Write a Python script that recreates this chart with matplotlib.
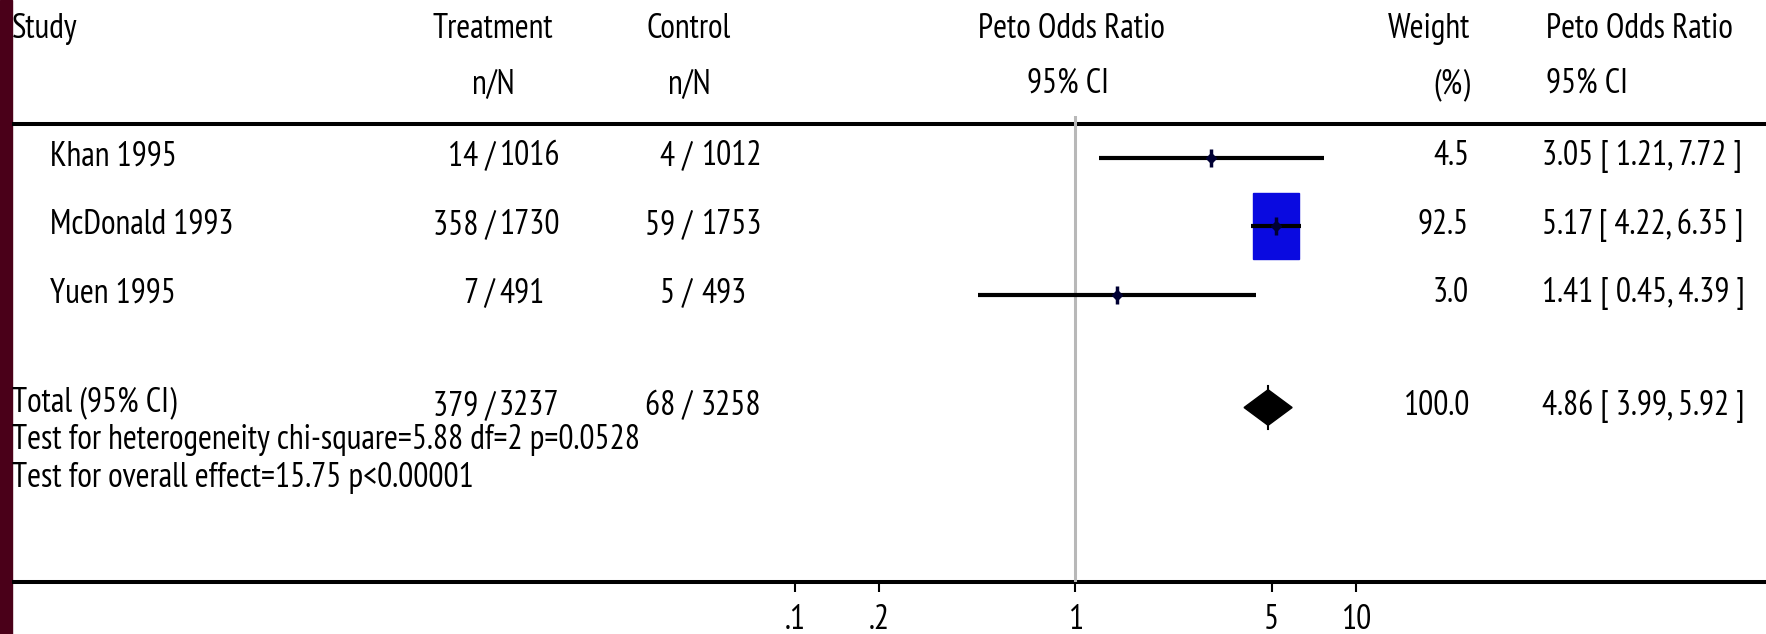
import matplotlib
matplotlib.use('Agg')
import matplotlib.pyplot as plt
from matplotlib import font_manager
from matplotlib.font_manager import FontProperties
from matplotlib.textpath import TextPath
from matplotlib.patches import Rectangle, Polygon
from matplotlib.ticker import NullLocator

# data
studies = ['Khan 1995', 'McDonald 1993', 'Yuen 1995']
treat_n = [14, 358, 7]
treat_N = [1016, 1730, 491]
ctrl_n = [4, 59, 5]
ctrl_N = [1012, 1753, 493]
odds = [3.05, 5.17, 1.41]
ci_low = [1.21, 4.22, 0.45]
ci_high = [7.72, 6.35, 4.39]
weights = [4.5, 92.5, 3.0]

total_treat = (379, 3237)
total_ctrl = (68, 3258)
total_or = 4.86
total_low = 3.99
total_high = 5.92
total_weight = 100.0

heterogeneity = 'Test for heterogeneity chi-square=5.88 df=2 p=0.0528'
overall = 'Test for overall effect=15.75 p<0.00001'

tick_vals = [0.1, 0.2, 1, 5, 10]
tick_labels = ['.1', '.2', '1', '5', '10']

# pick a narrow face if there is one, then size it so the long line fits
names = {f.name for f in font_manager.fontManager.ttflist}
FONT = next((f for f in ['Liberation Sans Narrow', 'Arial Narrow', 'PT Sans Narrow',
                         'Archivo Narrow', 'Roboto Condensed'] if f in names),
            'Liberation Sans')
prop = FontProperties(family=FONT)
w10 = TextPath((0, 0), heterogeneity, size=10, prop=prop).get_extents().width
FS = 10 * 627 * 0.72 / w10
cap = TextPath((0, 0), 'H', size=FS, prop=prop).get_extents().height / 0.72  # px

W, H = 1766, 634
fig = plt.figure(figsize=(W / 100, H / 100), dpi=100)

# pixel-space axes for text and rules
tax = fig.add_axes([0, 0, 1, 1])
tax.set_xlim(0, W)
tax.set_ylim(H, 0)
tax.axis('off')

# forest axes (log scale)
x_one, px_dec = 1075.5, 280.5
left_px, top_px, bot_px = 12, 116, 582
row0, row_h = 157.5, 68.5
total_row = 3.65

fax = fig.add_axes([left_px / W, (H - bot_px) / H, (W - left_px) / W, (bot_px - top_px) / H])
fax.set_xscale('log')
fax.set_xlim(10 ** ((left_px - x_one) / px_dec), 10 ** ((W - x_one) / px_dec))
fax.set_ylim((bot_px - row0) / row_h, (top_px - row0) / row_h)
fax.patch.set_alpha(0)
for s in fax.spines.values():
    s.set_visible(False)
fax.set_yticks([])
fax.xaxis.set_minor_locator(NullLocator())
fax.set_xticks(tick_vals, tick_labels)
fax.tick_params(axis='x', direction='out', length=7, width=1.5, pad=9,
                labelsize=FS, labelfontfamily=FONT)

def row_px(r):
    return row0 + row_h * r

def txt(x, yc, s, ha='left'):
    # yc is the centre of the capitals
    tax.text(x, yc + cap / 2, s, ha=ha, va='baseline', fontsize=FS, family=FONT,
             color='black')

# left bar and rules
tax.axvspan(0, left_px, color='#4a0019')
tax.hlines([124, 582], left_px, W, color='black', lw=2.9)

# null line
fax.axvline(1, color='#b8b8b8', lw=2.2, zorder=1)

# header
h1, h2 = 26, 81
txt(12, h1, 'Study')
txt(493, h1, 'Treatment', 'center')
txt(493, h2, 'n/N', 'center')
txt(689, h1, 'Control', 'center')
txt(689, h2, 'n/N', 'center')
txt(1071, h1, 'Peto Odds Ratio', 'center')
txt(1068, h2, '95% CI', 'center')
txt(1470, h1, 'Weight', 'right')
txt(1470, h2, '(%)', 'right')
txt(1546, h1, 'Peto Odds Ratio')
txt(1546, h2, '95% CI')

def frac(x_slash, gap, n, N, y):
    txt(x_slash, y, f'{n} /', 'right')
    txt(x_slash + gap, y, f'{N}')

for i, name in enumerate(studies):
    y = row_px(i) - 4
    txt(50, y, name)
    frac(495, 4, treat_n[i], treat_N[i], y)
    frac(692, 9, ctrl_n[i], ctrl_N[i], y)
    txt(1469, y, f'{weights[i]:.1f}', 'right')
    txt(1542, y, f'{odds[i]:.2f} [ {ci_low[i]:.2f}, {ci_high[i]:.2f} ]')

    # box sized by weight, then CI line and point on top
    hw = 0.0887 * weights[i] / 100
    bh = 1.04 * weights[i] / 100
    lo, hi = odds[i] / 10 ** hw, odds[i] * 10 ** hw
    fax.add_patch(Rectangle((lo, i - bh / 2), hi - lo, bh, color='#0a0ae0', zorder=2))
    fax.plot([ci_low[i], ci_high[i]], [i, i], color='black', lw=3, zorder=3,
             solid_capstyle='butt')
    fax.plot([odds[i]], [i], marker='|', ms=13, mew=2.5, color='#000033', zorder=4)
    fax.plot([odds[i]], [i], marker='D', ms=5, color='#000033', zorder=4)

# total row
y = row_px(total_row) - 4
txt(12, y - 4, 'Total (95% CI)')
frac(495, 4, total_treat[0], total_treat[1], y)
frac(692, 9, total_ctrl[0], total_ctrl[1], y)
txt(1469, y, f'{total_weight:.1f}', 'right')
txt(1542, y, f'{total_or:.2f} [ {total_low:.2f}, {total_high:.2f} ]')
dh = 0.26
fax.add_patch(Polygon([(total_low, total_row), (total_or, total_row - dh),
                       (total_high, total_row), (total_or, total_row + dh)],
                      closed=True, color='black', zorder=3))
fax.plot([total_or, total_or], [total_row - dh - 0.05, total_row + dh + 0.05],
         color='black', lw=1.5, zorder=3)

txt(12, 437, heterogeneity)
txt(12, 475, overall)

fig.savefig('out.png', dpi=100)
